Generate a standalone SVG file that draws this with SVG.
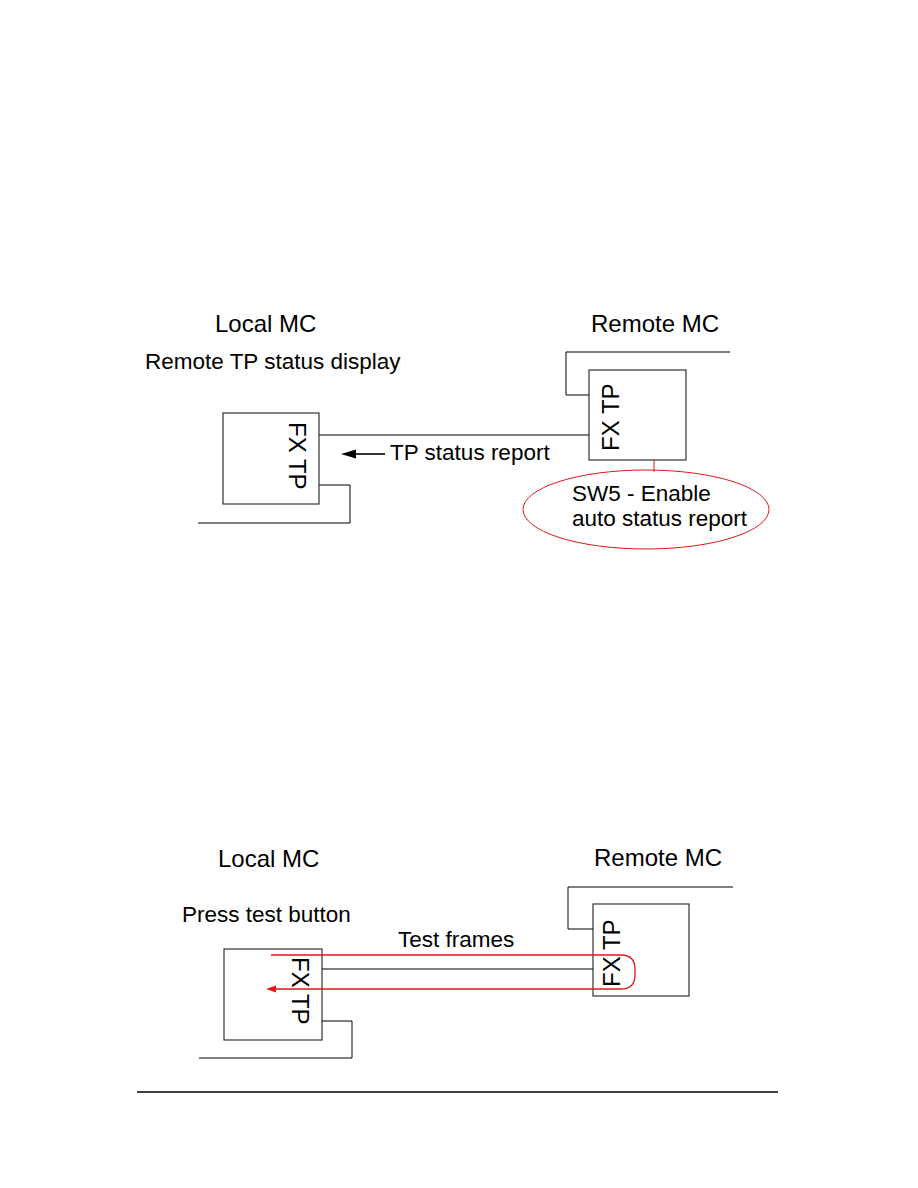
<svg xmlns="http://www.w3.org/2000/svg" width="918" height="1188" viewBox="0 0 918 1188">
<style>
text{font-family:"Liberation Sans",Arial,sans-serif;fill:#000}
.t{font-size:24px}
.l{font-size:22.5px}
.box{fill:#fff;stroke:#333;stroke-width:1.2}
.w{fill:none;stroke:#000;stroke-width:1}
.r{fill:none;stroke:#e01818;stroke-width:1.3}
</style>
<rect width="918" height="1188" fill="#fff"/>

<!-- Top diagram -->
<text class="t" x="215" y="332">Local MC</text>
<text class="t" x="591" y="332">Remote MC</text>
<text class="l" x="145" y="369">Remote TP status display</text>

<g id="connectors-top">
<path class="w" d="M319,435 H589"/>
<path class="w" d="M319,485 H350 V523 H198"/>
<path class="w" d="M589,395 H566 V352 H730"/>
<path d="M385,454 H353" stroke="#000" stroke-width="1.6" fill="none"/>
<polygon points="341,454 356,449.5 356,458.5" fill="#000"/>
<path d="M654,434 V472" stroke="#e01818" stroke-width="1" fill="none"/>
</g>

<g id="local-top">
<rect class="box" x="223" y="413" width="96" height="91"/>
<text class="t" transform="translate(289,422) rotate(90)">FX TP</text>
</g>
<g id="remote-top">
<rect class="box" x="589" y="370" width="97" height="90"/>
<text class="t" transform="translate(619,451) rotate(-90)">FX TP</text>
</g>
<text class="l" x="390" y="460">TP status report</text>
<g id="sw5-note">
<ellipse cx="646" cy="509.5" rx="123" ry="39.5" fill="none" stroke="#e01818" stroke-width="1"/>
<text class="l" x="572" y="501">SW5 - Enable</text>
<text class="l" x="572" y="526">auto status report</text>
</g>

<!-- Bottom diagram -->
<text class="t" x="218" y="867">Local MC</text>
<text class="t" x="594" y="866">Remote MC</text>
<text class="l" x="182" y="922">Press test button</text>
<text class="l" x="398" y="947">Test frames</text>

<g id="local-bottom">
<rect class="box" x="224" y="949" width="98" height="91"/>
<text class="t" transform="translate(292,957) rotate(90)">FX TP</text>
</g>
<g id="remote-bottom">
<rect class="box" x="593" y="904" width="96" height="92"/>
<text class="t" transform="translate(620,987) rotate(-90)">FX TP</text>
</g>

<g id="connectors-bottom">
<path class="w" d="M322,969 H593"/>
<path class="w" d="M322,1021 H352 V1058 H199"/>
<path class="w" d="M593,929 H568 V887 H733"/>
<path class="r" d="M271,955 H621 Q635,955 635,969 V975 Q635,989 621,989 H274"/>
<polygon points="266,989 276,985.5 276,992.5" fill="#e01818"/>
</g>

<path d="M137,1092 H778" stroke="#000" stroke-width="1.6"/>
</svg>
